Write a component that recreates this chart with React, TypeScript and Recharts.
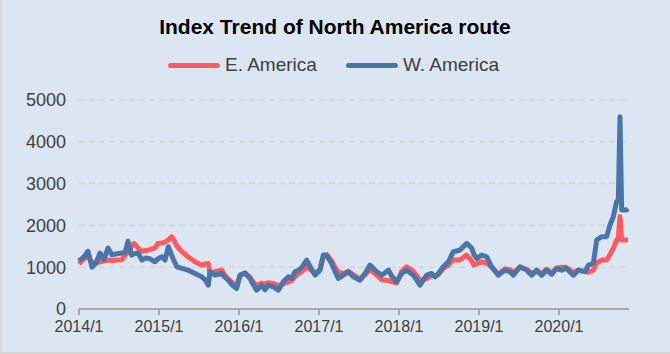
import { LineChart, Line, XAxis, YAxis, CartesianGrid } from "recharts";

// months since 2014/1
const months = [
  0, 0.75, 1.35, 1.95, 2.55, 3.15, 3.75, 4.35, 4.95, 5.7,
  6.45, 6.9, 7.35, 7.9, 8.25, 8.85, 9.45, 10.05, 10.65, 11.4,
  11.85, 12.45, 12.9, 13.4, 13.9, 14.25, 14.7, 15.45, 16.35, 17.4,
  18.4, 18.9, 19.4, 19.65, 20.4, 21.4, 21.9, 22.4, 22.95, 23.65,
  24.15, 24.9, 25.65, 26.1, 26.65, 27.4, 27.9, 28.4, 29.15, 29.9,
  30.65, 31.4, 31.9, 32.4, 32.9, 33.45, 34.15, 34.8, 35.4, 36.15,
  36.65, 37.15, 37.9, 38.4, 38.9, 39.65, 40.4, 41.15, 42.15, 42.9,
  43.65, 44.4, 45.4, 46.4, 46.95, 47.65, 48.4, 49.15, 50.15, 51.15,
  52.15, 52.9, 53.4, 53.9, 54.65, 55.4, 56.15, 57.15, 58.15, 58.9,
  59.25, 59.65, 60.4, 61.15, 61.9, 62.9, 63.9, 64.65, 65.15, 66.15,
  67.15, 67.9, 68.65, 69.4, 70.15, 70.9, 71.65, 72.4, 73.05, 74.15,
  74.9, 75.9, 76.4, 77.15, 77.65, 78.4, 79.15, 79.65, 80.15, 80.65,
  80.9, 81.15, 81.4, 82.15, 82.35,
];

const eAmerica = [
  1080, 1200, 1250, 1130, 1100, 1130, 1150, 1170, 1160, 1170,
  1180, 1290, 1350, 1500, 1570, 1460, 1380, 1400, 1420, 1460,
  1570, 1580, 1600, 1650, 1730, 1650, 1500, 1370, 1250, 1130,
  1050, 1080, 1090, 850, 900, 930, 800, 720, 640, 550,
  800, 860, 760, 650, 560, 620, 600, 630, 610, 560,
  600, 650, 680, 770, 850, 900, 1000, 930, 850, 950,
  1250, 1300, 1150, 1000, 880, 850, 900, 820, 720, 820,
  950, 850, 700, 680, 650, 620, 900, 1010, 900, 690,
  730, 800, 780, 820, 970, 1050, 1170, 1170, 1290, 1150,
  1050, 1080, 1130, 1100, 1000, 830, 960, 940, 870, 1000,
  950, 850, 900, 850, 950, 860, 980, 1000, 1000, 880,
  930, 900, 880, 930, 1100, 1170, 1170, 1300, 1450, 1650,
  1700, 2210, 1650, 1650, 1650,
];

const wAmerica = [
  1150, 1250, 1380, 1000, 1100, 1340, 1180, 1460, 1300, 1320,
  1340, 1350, 1620, 1290, 1320, 1340, 1170, 1220, 1200, 1130,
  1200, 1250, 1170, 1490, 1290, 1150, 1010, 970, 930, 850,
  770, 700, 570, 890, 810, 850, 760, 690, 580, 490,
  810, 860, 730, 600, 450, 570, 460, 570, 530, 450,
  650, 770, 730, 890, 930, 1000, 1170, 980, 810, 930,
  1290, 1280, 1090, 900, 730, 810, 890, 770, 690, 850,
  1050, 930, 810, 930, 780, 650, 850, 930, 810, 570,
  810, 850, 770, 850, 1010, 1130, 1370, 1410, 1570, 1460,
  1300, 1210, 1290, 1250, 1010, 810, 930, 890, 810, 1010,
  930, 810, 930, 810, 930, 830, 970, 930, 980, 810,
  930, 890, 1050, 1090, 1650, 1730, 1730, 2010, 2210, 2570,
  2600, 4600, 2370, 2370, 2400,
];

const yTicks = [0, 1000, 2000, 3000, 4000, 5000];
const xTicks = [0, 12, 24, 36, 48, 60, 72];

const RED = "#ff5a5f";
const BLUE = "#4a75a6";
const FONT = '"Liberation Sans", Arial, sans-serif';

const data = months.map((m, i) => ({ m, east: eAmerica[i], west: wAmerica[i] }));

function LegendItem({ color, label }: { color: string; label: string }) {
  return (
    <div style={{ display: "flex", alignItems: "center" }}>
      <div style={{ width: 52, height: 5, borderRadius: 3, background: color, marginRight: 5 }} />
      <span style={{ fontSize: 19, color: "#404040" }}>{label}</span>
    </div>
  );
}

export default function App() {
  return (
    <div
      style={{
        position: "absolute",
        left: 0,
        top: 0,
        width: 670,
        height: 354,
        background: "#dce6f2",
        fontFamily: FONT,
        overflow: "hidden",
      }}
    >
      <div style={{ position: "absolute", left: 0, top: 0, width: 2, height: 354, background: "#d6d6d6" }} />
      <div style={{ position: "absolute", left: 0, top: 352, width: 670, height: 2, background: "#d6d6d6" }} />
      <div
        style={{
          position: "absolute",
          left: 0,
          top: 14,
          width: 670,
          textAlign: "center",
          fontSize: 21,
          fontWeight: "bold",
          color: "#000",
          lineHeight: "26px",
        }}
      >
        Index Trend of North America route
      </div>
      <div
        style={{
          position: "absolute",
          left: 168,
          top: 53,
          height: 24,
          display: "flex",
          alignItems: "center",
          gap: 29,
        }}
      >
        <LegendItem color={RED} label="E. America" />
        <LegendItem color={BLUE} label="W. America" />
      </div>
      <LineChart
        width={670}
        height={354}
        data={data}
        margin={{ top: 100, right: 41, bottom: 0, left: 0 }}
      >
        <CartesianGrid
          vertical={false}
          stroke="#d6d6cf"
          strokeDasharray="6 4"
          strokeWidth={1.5}
        />
        <XAxis
          dataKey="m"
          type="number"
          domain={[0, 82.5]}
          ticks={xTicks}
          height={45}
          tickFormatter={(m: number) => `${2014 + m / 12}/1`}
          tick={{ fontSize: 16, fill: "#404040", fontFamily: FONT }}
          axisLine={{ stroke: "#a6a6a6", strokeWidth: 2 }}
          tickLine={{ stroke: "#a6a6a6", strokeWidth: 2 }}
          tickSize={6}
          tickMargin={6}
        />
        <YAxis
          domain={[0, 5000]}
          ticks={yTicks}
          width={79}
          axisLine={false}
          tickLine={false}
          tickSize={6}
          tickMargin={7}
          tick={{ fontSize: 18, fill: "#404040", fontFamily: FONT }}
        />
        <Line
          dataKey="east"
          type="linear"
          stroke={RED}
          strokeWidth={5}
          dot={false}
          strokeLinejoin="round"
          isAnimationActive={false}
        />
        <Line
          dataKey="west"
          type="linear"
          stroke={BLUE}
          strokeWidth={5}
          dot={false}
          strokeLinejoin="round"
          isAnimationActive={false}
        />
      </LineChart>
    </div>
  );
}
